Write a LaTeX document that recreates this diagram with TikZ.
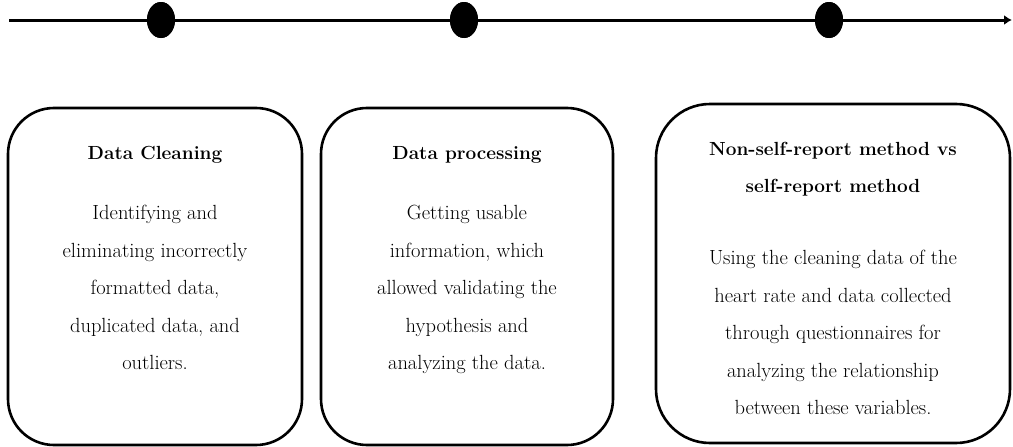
\documentclass[tikz,border=0pt]{standalone}
\usetikzlibrary{shapes.geometric,arrows.meta}
\begin{document}
\begin{tikzpicture}[x=1pt,y=-1pt,
  stage/.style={draw=black,line width=2.6pt,rounded corners=46pt,inner sep=0pt},
  milestone/.style={ellipse,fill=black,inner sep=0pt,minimum width=28pt,minimum height=36pt},
  title/.style={font=\fontsize{19}{37.5}\selectfont\bfseries,align=center,anchor=center},
  body/.style={font=\fontsize{20.5}{37.5}\selectfont,align=center,anchor=north},
  timeline/.style={line width=3pt,-{Latex[length=8pt,width=10pt]}}
]
\useasboundingbox (0,0) rectangle (1013,447);

% timeline with three milestones
\coordinate (tstart) at (9,20);
\coordinate (tend) at (1012,20);
\node[milestone] (m1) at (161,20) {};
\node[milestone] (m2) at (464,20) {};
\node[milestone] (m3) at (829,20) {};
\draw[timeline] (tstart) -- (tend);
\node[milestone] at (m1) {};
\node[milestone] at (m2) {};
\node[milestone] at (m3) {};

% stage boxes
\draw[stage] (8,108) rectangle (302,445);
\draw[stage] (321,108) rectangle (613,445);
\draw[stage,rounded corners=54pt] (656,104) rectangle (1010,443);

% stage texts
\node[title] (t1) at (155,155) {Data Cleaning};
\node[body] (b1) at (155,202) {Identifying and\\eliminating incorrectly\\formatted data,\\duplicated data, and\\outliers.};

\node[title] (t2) at (467,155) {Data processing};
\node[body] (b2) at (467,202) {Getting usable\\information, which\\allowed validating the\\hypothesis and\\analyzing the data.};

\node[title] (t3) at (833,169) {Non-self-report method vs\\self-report method};
\node[body] (b3) at (833,247) {Using the cleaning data of the\\heart rate and data collected\\through questionnaires for\\analyzing the relationship\\between these variables.};
\end{tikzpicture}
\end{document}
